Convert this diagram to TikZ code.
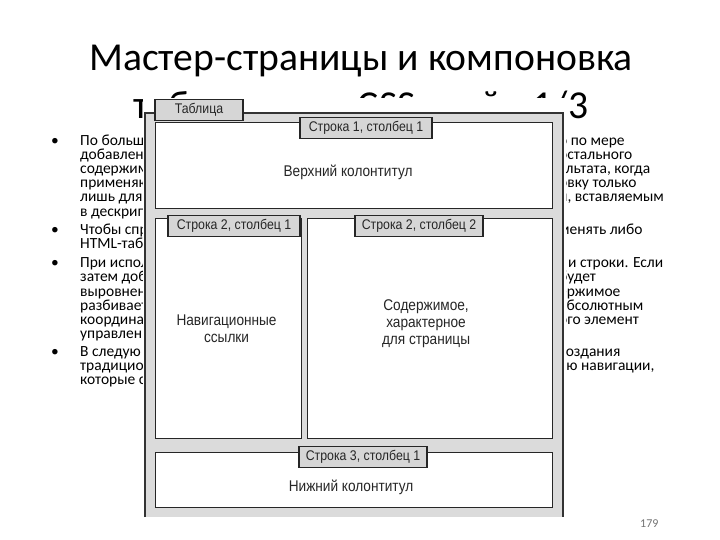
\documentclass[tikz,border=0pt]{standalone}
\usepackage{fontspec}
\setmainfont{Carlito}
\newfontfamily\scanfont[FakeStretch=0.88]{Liberation Sans}
\usetikzlibrary{positioning}

\begin{document}
\begin{tikzpicture}[x=1pt,y=-1pt,
  textline/.style={anchor=base west,inner sep=0pt,font=\fontsize{15.5}{15}\selectfont},
  bulletdot/.style={anchor=base,inner sep=0pt,font=\fontsize{15.5}{15}\selectfont},
  cell/.style={draw=black!85,fill=white,line width=1.1pt,anchor=north west,inner sep=0pt},
  celltab/.style={draw=black!85,fill=black!16,line width=1.1pt,inner sep=0pt,minimum height=21pt,font=\scanfont\fontsize{14}{15}\selectfont,text=black!85},
  celltext/.style={align=center,font=\scanfont\fontsize{15.5}{17}\selectfont,text=black!85}]
\useasboundingbox (0,0) rectangle (720,540);
% title
\node[anchor=base,font=\fontsize{39.6}{46}\selectfont] (title1) at (361,71) {Мастер-страницы и компоновка};
\node[anchor=base,font=\fontsize{39.6}{46}\selectfont] (title2) at (361,119) {таблицами и CSS слайд 1/3};
% bullets, left side
\node[bulletdot] (dot1) at (55,146) {•};
\node[bulletdot] (dot2) at (55,234) {•};
\node[bulletdot] (dot3) at (55,267) {•};
\node[bulletdot] (dot4) at (55,356) {•};
\node[textline] (p1a) at (80,146) {По больш};
\node[textline] (p1b) at (80,160) {добавлен};
\node[textline] (p1c) at (80,174) {содержим};
\node[textline] (p1d) at (80,188) {применяю};
\node[textline] (p1e) at (80,202) {лишь для};
\node[textline] (p1f) at (80,216) {в дескрип};
\node[textline] (p2a) at (80,234) {Чтобы спр};
\node[textline] (p2b) at (80,248) {HTML-таб};
\node[textline] (p3a) at (80,267) {При испол};
\node[textline] (p3b) at (80,281) {затем доб};
\node[textline] (p3c) at (80,296) {выровнен};
\node[textline] (p3d) at (80,310) {разбивает};
\node[textline] (p3e) at (80,324) {координат};
\node[textline] (p3f) at (80,338) {управлени};
\node[textline] (p4a) at (80,356) {В следую};
\node[textline] (p4b) at (80,370) {традицио};
\node[textline] (p4c) at (80,384) {которые с};
% bullets, right side
\node[textline] (q1a) at (559,146) {о по мере};
\node[textline] (q1b) at (559,160) {остального};
\node[textline] (q1c) at (559,174) {ультата, когда};
\node[textline] (q1d) at (559,188) {овку только};
\node[textline] (q1e) at (559,202) {и, вставляемым};
\node[textline] (q2a) at (559,234) {менять либо};
\node[textline] (q3a) at (568,267) {и строки. Если};
\node[textline] (q3b) at (559,281) {будет};
\node[textline] (q3c) at (559,296) {ержимое};
\node[textline] (q3d) at (559,310) {абсолютным};
\node[textline] (q3e) at (559,324) {ого элемент};
\node[textline] (q4a) at (559,356) {создания};
\node[textline] (q4b) at (559,370) {ью навигации,};
\node[anchor=base east,font=\fontsize{12}{12}\selectfont,text=black!55] (page) at (662,527) {179};
% scanned table layout
\fill[white] (143,98) rectangle (566,519);
\fill[black!14] (145,113) rectangle (563,517);
\draw[black!80,line width=1.2pt] (145,517) -- (145,113) -- (563,113) -- (563,517);
\node[cell,minimum width=397pt,minimum height=86pt] (row1) at (155,122) {};
\node[cell,minimum width=146pt,minimum height=220pt] (nav) at (155,218) {};
\node[cell,minimum width=245pt,minimum height=220pt] (main) at (307,218) {};
\node[cell,minimum width=397pt,minimum height=55pt] (row3) at (155,452) {};
\node[celltab,minimum width=88pt] (table) at (199,110) {Таблица};
\node[celltab,minimum width=132pt] (tab1) at (366,128) {Строка 1, столбец 1};
\node[celltab,minimum width=132pt] (tab21) at (234,226) {Строка 2, столбец 1};
\node[celltab,minimum width=128pt] (tab22) at (419,226) {Строка 2, столбец 2};
\node[celltab,minimum width=128pt] (tab3) at (363,457) {Строка 3, столбец 1};
\node[celltext] (header) at ([shift={(-6pt,-7pt)}]row1.center) {Верхний колонтитул};
\node[celltext] (links) at ([shift={(-2pt,0pt)}]nav.center) {Навигационные\\ссылки};
\node[celltext] (content) at ([shift={(-4pt,5pt)}]main.center) {Содержимое,\\характерное\\для страницы};
\node[celltext] (footer) at ([shift={(-3pt,-7pt)}]row3.center) {Нижний колонтитул};
\end{tikzpicture}
\end{document}
